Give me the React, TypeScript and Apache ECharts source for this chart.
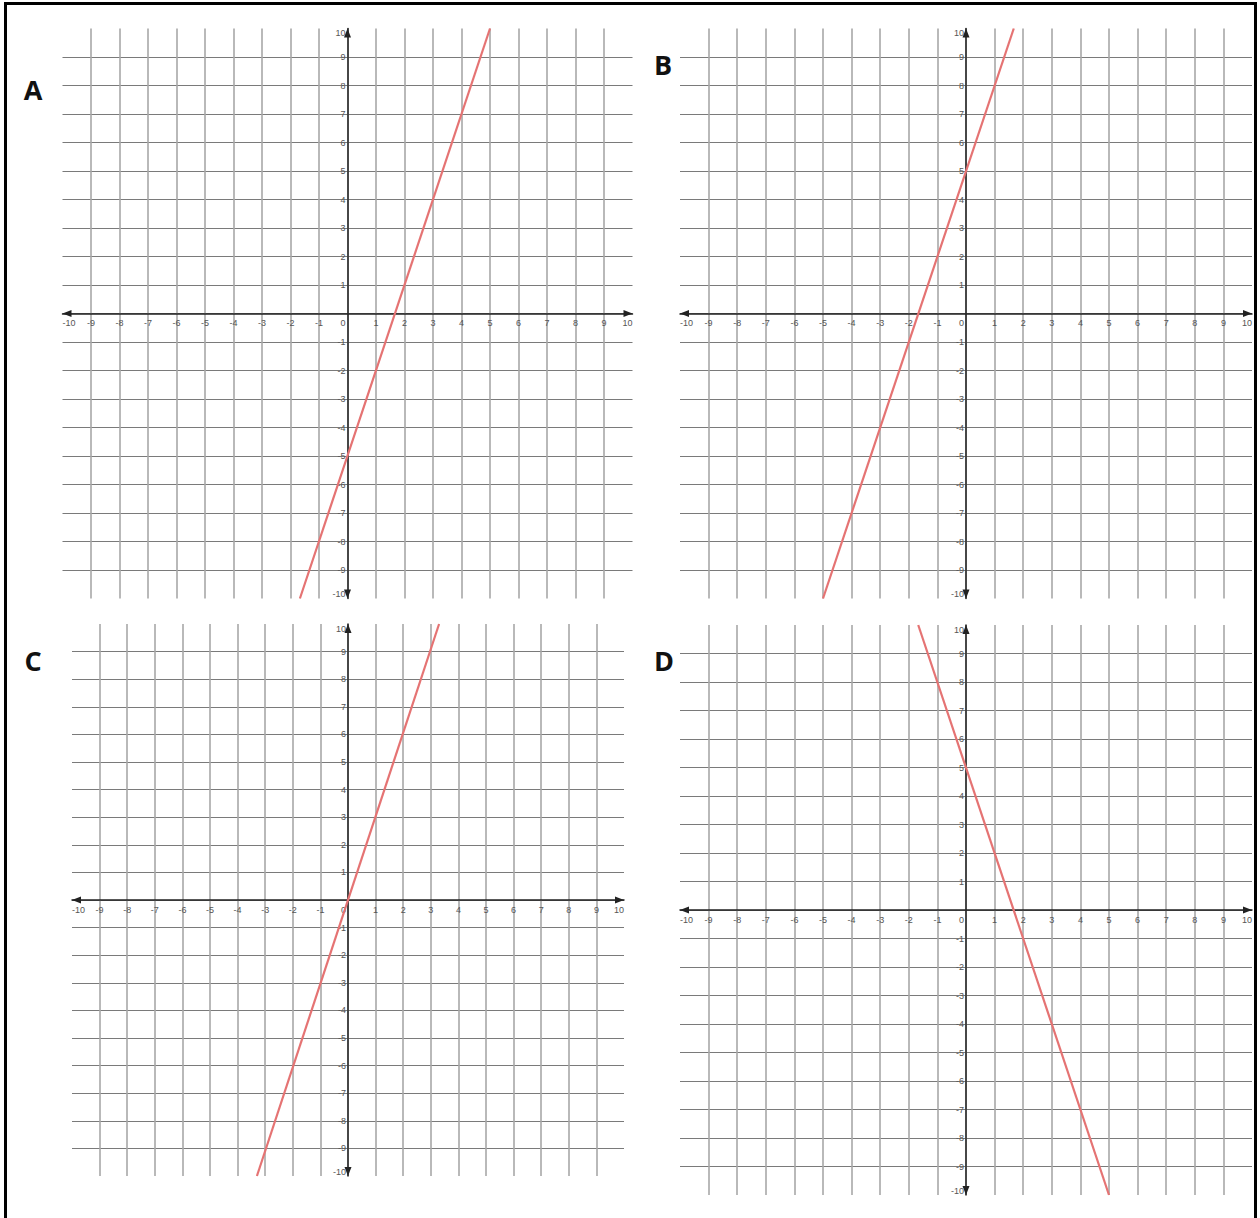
import React, { useEffect, useRef } from "react";
import * as echarts from "echarts";

// Panel names
const panelNames = ["A", "B", "C", "D"];

// Line endpoints (x, y)
const lineA = [[-1.67, -10], [5, 10]];
const lineB = [[-5, -10], [1.67, 10]];
const lineC = [[-3.3, -10], [3.3, 10]];
const lineD = [[-1.67, 10], [5, -10]];
const lines = [lineA, lineB, lineC, lineD];

// Axis range / ticks
const axisMin = -10;
const axisMax = 10;
const axisStep = 1;

// Layout (pixels)
const grids = [
  { left: 62.5, top: 28.5, width: 570, height: 570 },
  { left: 680, top: 28.5, width: 572, height: 570 },
  { left: 72, top: 624, width: 552, height: 552 },
  { left: 680, top: 625, width: 572, height: 570 },
];
const letterPos = [
  [33, 89],
  [663, 64],
  [33, 660],
  [664, 660],
];

const LINE_COLOR = "#e57373";
const FONT = '"Liberation Sans", Arial, sans-serif';

export default function App() {
  const ref = useRef<HTMLDivElement>(null);
  useEffect(() => {
    if (!ref.current) return;
    const chart = echarts.init(ref.current, null, { renderer: "svg" });

    const axisLineCommon = {
      show: true,
      onZero: false,
      symbol: ["triangle", "triangle"],
      symbolSize: [7, 9],
      symbolOffset: [4.5, -4.5],
      lineStyle: { color: "#222", width: 1.5 },
    };

    const xAxes = grids.map((g, i) => ({
      type: "value",
      gridIndex: i,
      position: "bottom",
      offset: -g.height / 2,
      min: axisMin,
      max: axisMax,
      interval: axisStep,
      axisLine: axisLineCommon,
      axisTick: { show: false },
      axisLabel: {
        show: true,
        fontSize: 9,
        color: "#555",
        fontFamily: FONT,
        margin: 5,
        alignMinLabel: "left",
        alignMaxLabel: "right",
        formatter: (v: number) => (v === 0 ? "{z|0}" : String(v)),
        rich: { z: { fontSize: 9, color: "#555", fontFamily: FONT, padding: [0, 9, 0, 0] } },
      },
      splitLine: {
        show: true,
        showMinLine: false,
        showMaxLine: false,
        lineStyle: { color: "#a8a8a8", width: 1.6 },
      },
    }));

    const yAxes = grids.map((g, i) => ({
      type: "value",
      gridIndex: i,
      position: "left",
      offset: -g.width / 2,
      min: axisMin,
      max: axisMax,
      interval: axisStep,
      axisLine: axisLineCommon,
      axisTick: { show: false },
      axisLabel: {
        show: true,
        fontSize: 9,
        color: "#555",
        fontFamily: FONT,
        margin: 2,
        verticalAlignMinLabel: "bottom",
        verticalAlignMaxLabel: "top",
        formatter: (v: number) => (v === 0 ? "" : String(v)),
      },
      splitLine: {
        show: true,
        showMinLine: false,
        showMaxLine: false,
        lineStyle: { color: "#7a7a7a", width: 1.1 },
      },
    }));

    const series = lines.map((d, i) => ({
      type: "line",
      xAxisIndex: i,
      yAxisIndex: i,
      data: d,
      showSymbol: false,
      symbol: "none",
      silent: true,
      z: 5,
      lineStyle: { color: LINE_COLOR, width: 2.2 },
    }));

    const letters = panelNames.map((n, i) => ({
      type: "text",
      x: letterPos[i][0],
      y: letterPos[i][1],
      style: {
        text: n,
        font: 'bold 27px "Open Sans", "Liberation Sans", sans-serif',
        fill: "#111",
        align: "center",
        verticalAlign: "middle",
      },
    }));

    chart.setOption({
      animation: false,
      backgroundColor: "#fff",
      grid: grids.map((g) => ({ ...g, containLabel: false })),
      xAxis: xAxes,
      yAxis: yAxes,
      series,
      graphic: [
        {
          type: "rect",
          shape: { x: 5.5, y: 3.5, width: 1250, height: 1240 },
          style: { fill: "none", stroke: "#000", lineWidth: 3 },
          silent: true,
        },
        ...letters,
      ],
    });
    return () => chart.dispose();
  }, []);

  return (
    <div
      ref={ref}
      style={{ position: "absolute", left: 0, top: 0, width: 1260, height: 1218 }}
    />
  );
}
